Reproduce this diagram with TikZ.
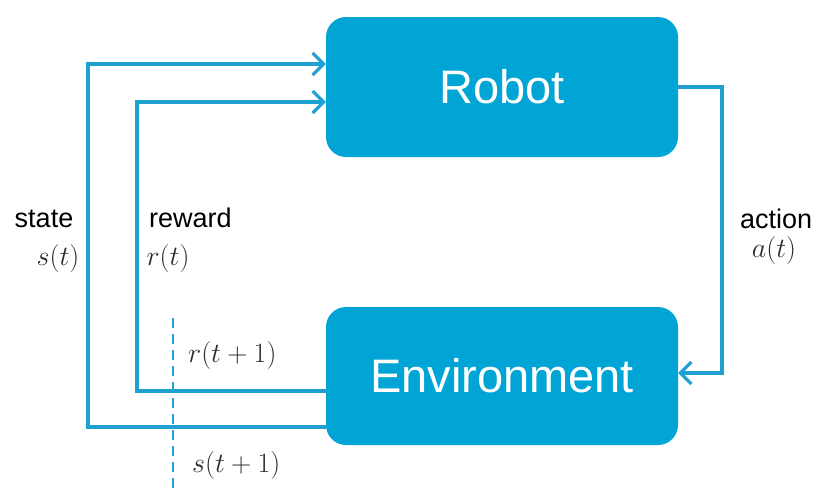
\RequirePackage{fix-cm}
\documentclass[tikz,border=0pt]{standalone}
\usepackage{fontspec}
\setmainfont{Liberation Sans}
\usetikzlibrary{arrows.meta}
\definecolor{boxblue}{RGB}{0,165,214}
\definecolor{lineblue}{RGB}{30,160,208}
\definecolor{mathgray}{RGB}{50,44,38}
\begin{document}
\begin{tikzpicture}[x=1pt,y=-1pt,
  block/.style={draw=none,fill=boxblue,rounded corners=20pt,minimum width=352pt,
    text=white,font=\fontsize{47}{50}\selectfont,inner sep=0pt},
  conn/.style={draw=lineblue,line width=3.6pt},
  arr/.style={-{Straight Barb[length=11pt,width=22pt,line width=3.2pt]}},
  lbl/.style={font=\fontsize{27}{29}\selectfont,text=black,inner sep=0pt},
  mth/.style={font=\fontsize{28}{30}\selectfont,text=mathgray,inner sep=0pt}]
\useasboundingbox (0,0) rectangle (819,498);
\node[block,minimum height=140pt] (robot) at (502,87) {Robot};
\node[block,minimum height=138pt] (env) at (502,376) {Environment};
% state loop
\coordinate (sc) at (88,64);
\draw[conn,arr] ([yshift=18pt]env.south west) -| (sc) -- (sc -| robot.west);
% reward loop
\coordinate (rc) at (137,102);
\draw[conn,arr] ([yshift=-15pt]env.west) -| (rc) -- (rc -| robot.west);
% action loop
\coordinate (ac) at (722,87);
\draw[conn,arr] (robot.east) -- (ac) |- ([yshift=3pt]env.east);
% dashed cut line
\coordinate (d1) at (173,318);
\coordinate (d2) at (173,492);
\draw[lineblue,line width=2pt,dash pattern=on 10pt off 6pt] (d1) -- (d2);
% labels
\node[lbl,anchor=base] (st) at (44,227) {state};
\node[mth] (stm) at (58,258) {$s(t)$};
\node[lbl,anchor=base west] (rw) at (149,227) {reward};
\node[mth] (rwm) at (168,258) {$r(t)$};
\node[lbl,anchor=base west] (ac1) at (740,228) {action};
\node[mth] (acm) at (774,250) {$a(t)$};
\node[mth,anchor=west] (r1) at (188,355) {$r(t+1)$};
\node[mth,anchor=west] (s1) at (192,465) {$s(t+1)$};
\end{tikzpicture}
\end{document}
